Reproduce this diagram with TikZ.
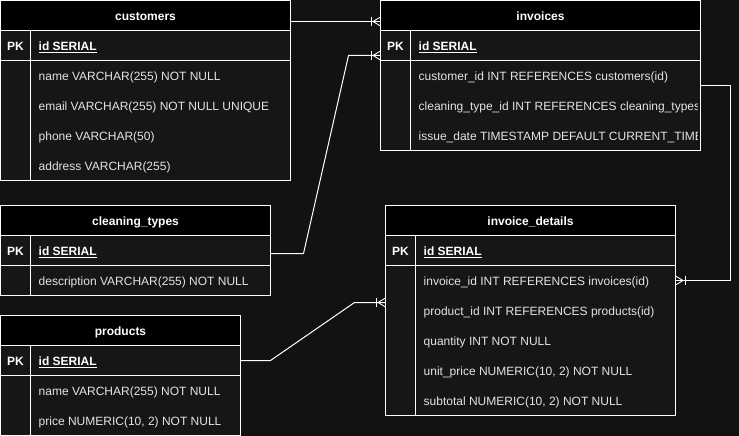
\documentclass[tikz,border=0pt]{standalone}
\usepackage{fontspec}
\setmainfont{Liberation Sans}
\usetikzlibrary{calc}
\definecolor{bgc}{HTML}{121212}
\definecolor{rowc}{HTML}{161616}
\definecolor{txtc}{HTML}{E4E4E4}
\tikzset{
  tablebox/.style={fill=rowc, inner sep=0pt, outer sep=0pt, anchor=north west},
  rule/.style={draw=white, line width=1pt},
  fieldtxt/.style={text=txtc, font=\fontsize{12}{14}\selectfont, anchor=base west, inner sep=0pt},
  titletxt/.style={text=white, font=\fontsize{12}{14}\selectfont\bfseries, anchor=base, inner sep=0pt},
  pktxt/.style={text=white, font=\fontsize{12}{14}\selectfont\bfseries, anchor=base, inner sep=0pt},
  idtxt/.style={text=white, font=\fontsize{12}{14}\selectfont\bfseries, anchor=base west, inner sep=0pt},
  link/.style={draw=white, line width=1pt},
  footline/.style={draw=white, line width=0.9pt},
}
% #1 name, #2 x, #3 y, #4 width, #5 height, #6 title, #7 fields
\newcommand\ertable[7]{%
  \node[tablebox, minimum width=#4pt, minimum height=#5pt] (#1) at (#2,#3) {};
  \fill[black] (#1.north west) rectangle ($(#1.north east)+(0,30)$);
  \draw[rule] ($(#1.north west)+(0,30)$) -- ($(#1.north east)+(0,30)$);
  \draw[rule] ($(#1.north west)+(0,60)$) -- ($(#1.north east)+(0,60)$);
  \draw[rule] ($(#1.north west)+(30,30)$) -- ($(#1.south west)+(30,0)$);
  \node[titletxt] at ($(#1.north)+(0,19.7)$) {#6};
  \node[pktxt] at ($(#1.north west)+(15,49.7)$) {PK};
  \node[idtxt] at ($(#1.north west)+(38,49.7)$) {\underline{id SERIAL}};
  \begin{scope}
    \clip ($(#1.north west)+(30,60)$) rectangle ($(#1.south east)+(-3,0)$);
    \foreach \f [count=\i] in {#7} {
      \node[fieldtxt] at ($(#1.north west)+(38,49.7+30*\i)$) {\f};
    }
  \end{scope}
  \draw[rule] (#1.north west) rectangle (#1.south east);
}
% crow's foot with bar: #1 coordinate on box edge, #2 = +1 box to the right, -1 box to the left
\newcommand\crowfoot[2]{%
  \begin{scope}[shift={(#1)}, xscale=#2]
    \draw[footline] (-9.5,-4.5) -- (-9.5,4.5);
    \draw[footline] (0,-4.5) -- (-7.5,0) -- (0,4.5);
  \end{scope}
}
\begin{document}
\begin{tikzpicture}[x=1pt, y=-1pt]
  \useasboundingbox (0,0) rectangle (739,436);
  \fill[bgc] (0,0) rectangle (739,436);

  \ertable{cust}{0.5}{0.5}{290}{180}{customers}{name VARCHAR(255) NOT NULL, email VARCHAR(255) NOT NULL UNIQUE, phone VARCHAR(50), address VARCHAR(255)}
  \ertable{inv}{380.5}{0.5}{320}{150}{invoices}{customer\_id INT REFERENCES customers(id), cleaning\_type\_id INT REFERENCES cleaning\_types(id), issue\_date TIMESTAMP DEFAULT CURRENT\_TIMESTAMP}
  \ertable{ct}{0.5}{205.5}{270}{90}{cleaning\_types}{description VARCHAR(255) NOT NULL}
  \ertable{prod}{0.5}{315.5}{240}{120}{products}{name VARCHAR(255) NOT NULL, {price NUMERIC(10, 2) NOT NULL}}
  \ertable{invd}{385.5}{205.5}{290}{210}{invoice\_details}{invoice\_id INT REFERENCES invoices(id), product\_id INT REFERENCES products(id), quantity INT NOT NULL, {unit\_price NUMERIC(10, 2) NOT NULL}, {subtotal NUMERIC(10, 2) NOT NULL}}

  % connector end points
  \coordinate (c1s) at ($(cust.north east)+(0,21)$);
  \coordinate (c1e) at ($(inv.north west)+(0,21)$);
  \coordinate (c2s) at ($(ct.north east)+(0,48)$);
  \coordinate (c2e) at ($(inv.north west)+(0,55)$);
  \coordinate (c3s) at ($(inv.north east)+(0,85)$);
  \coordinate (c3e) at ($(invd.north east)+(0,75)$);
  \coordinate (c4s) at ($(prod.north east)+(0,45)$);
  \coordinate (c4e) at ($(invd.north west)+(0,97)$);

  % customers -> invoices
  \draw[link] (c1s) -- (c1e);
  \crowfoot{c1e}{1}
  % cleaning_types -> invoices
  \draw[link] (c2s) -- ++(33,0) -- ($(c2e)+(-32,0)$) -- (c2e);
  \crowfoot{c2e}{1}
  % invoices -> invoice_details
  \draw[link] (c3s) -| ($(c3e)+(55,0)$) -- (c3e);
  \crowfoot{c3e}{-1}
  % products -> invoice_details
  \draw[link] (c4s) -- ++(30,0) -- ($(c4e)+(-31,0)$) -- (c4e);
  \crowfoot{c4e}{1}
\end{tikzpicture}
\end{document}
